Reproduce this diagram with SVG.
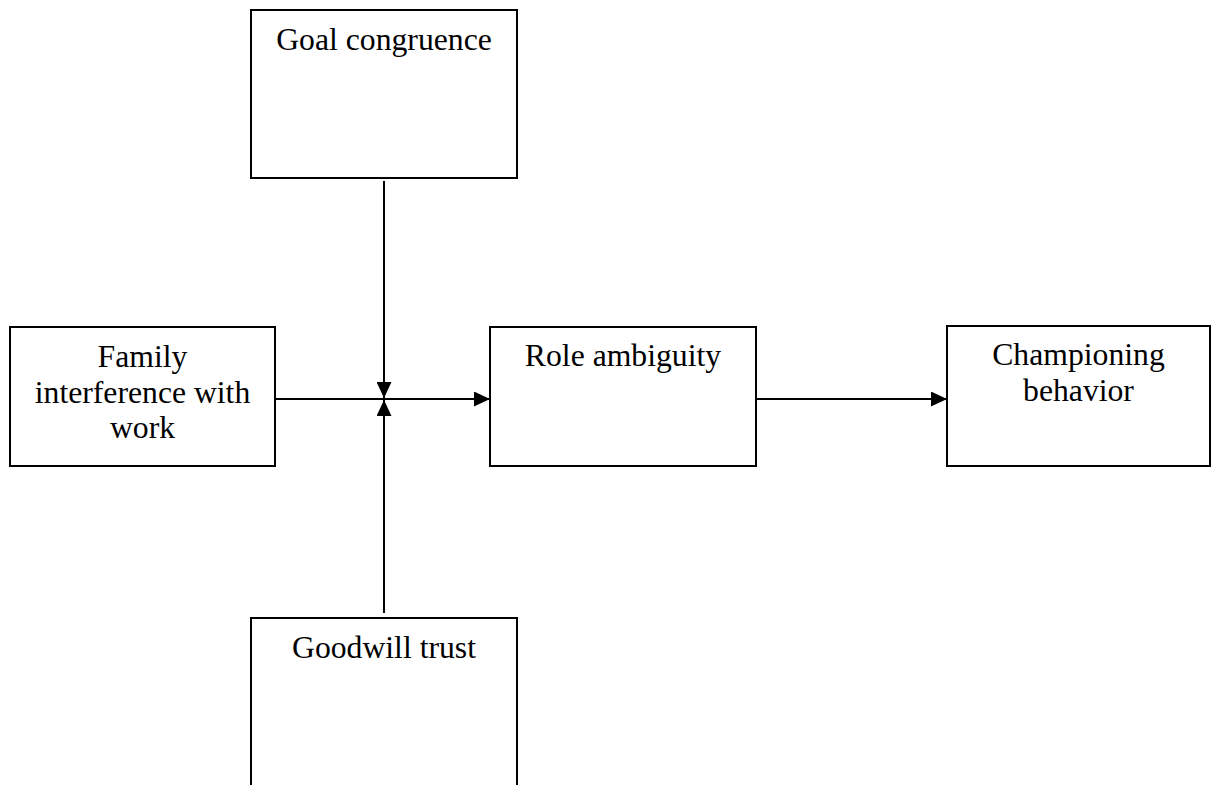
<svg xmlns="http://www.w3.org/2000/svg" width="1211" height="785" viewBox="0 0 1211 785">
<style>
.box{fill:#fff;stroke:#000;stroke-width:2}
.lbl{font-family:"Liberation Serif","Times New Roman",serif;font-size:31.7px;fill:#000;text-anchor:middle}
.conn{stroke:#000;stroke-width:2;fill:none}
</style>
<defs>
<marker id="arr" markerUnits="userSpaceOnUse" markerWidth="17" markerHeight="15" refX="16" refY="7.5" orient="auto">
<path d="M0,0 L16,7.5 L0,15 Z" fill="#000"/>
</marker>
</defs>
<rect width="1211" height="785" fill="#fff"/>
<g id="connectors">
<line class="conn" x1="384" y1="181" x2="384" y2="398" marker-end="url(#arr)"/>
<line class="conn" x1="384" y1="613" x2="384" y2="400" marker-end="url(#arr)"/>
<line class="conn" x1="275" y1="399" x2="490" y2="399" marker-end="url(#arr)"/>
<line class="conn" x1="756" y1="399" x2="947" y2="399" marker-end="url(#arr)"/>
</g>
<g id="goal">
<rect class="box" x="251" y="10" width="266" height="168"/>
<text class="lbl" x="384" y="50">Goal congruence</text>
</g>
<g id="family">
<rect class="box" x="10" y="327" width="265" height="139"/>
<text class="lbl" x="142.5" y="367">Family</text>
<text class="lbl" x="142.5" y="403">interference with</text>
<text class="lbl" x="142.5" y="438">work</text>
</g>
<g id="role">
<rect class="box" x="490" y="327" width="266" height="139"/>
<text class="lbl" x="623" y="366">Role ambiguity</text>
</g>
<g id="championing">
<rect class="box" x="947" y="326" width="263" height="140"/>
<text class="lbl" x="1078.5" y="365">Championing</text>
<text class="lbl" x="1078.5" y="401">behavior</text>
</g>
<g id="goodwill">
<rect class="box" x="251" y="618" width="266" height="180"/>
<text class="lbl" x="384" y="658">Goodwill trust</text>
</g>
</svg>
